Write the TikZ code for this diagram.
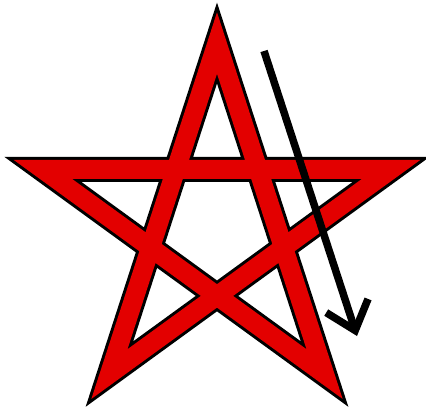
\documentclass[tikz,border=0pt]{standalone}
\usepackage{tikz}
\usetikzlibrary{arrows.meta}
\definecolor{star-red}{HTML}{E30000}

\begin{document}
\begin{tikzpicture}[x=1pt, y=1pt, line join=miter,
    starband/.style={draw=black, line width=3pt, double=star-red, double distance=19pt},
    pointer/.style={line width=7.5pt, -{Straight Barb[length=26pt, width=44pt]}}]
  \useasboundingbox (0,0) rectangle (426,-407);
  \begin{scope}[shift={(217,-226)}]
    \foreach \k in {0,...,4}
      \coordinate (v\k) at (90+144*\k:183);
  \end{scope}
  \draw[starband] (v0) -- (v1) -- (v2) -- (v3) -- (v4) -- cycle;
  % arrow beside the right arm
  \coordinate (tail) at (264,-51);
  \coordinate (head) at (357,-336);
  \draw[pointer] (tail) -- (head);
\end{tikzpicture}
\end{document}
